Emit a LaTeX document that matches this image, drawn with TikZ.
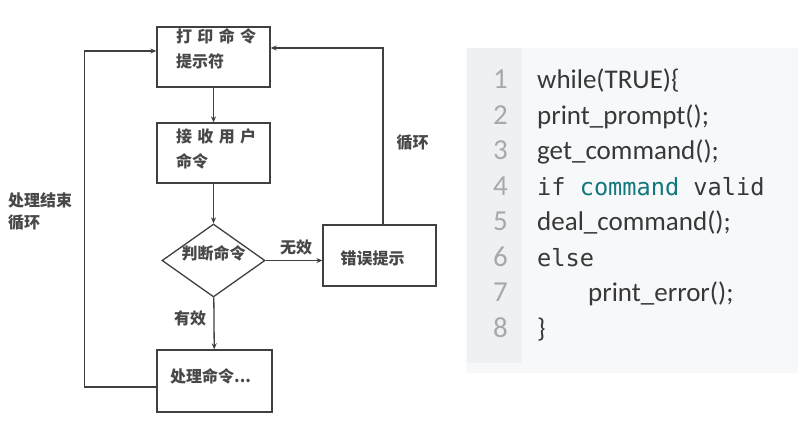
\documentclass[tikz,border=0pt]{standalone}
\usepackage{fontspec}
\setmainfont{Noto Sans}
\newfontfamily\cjk{Noto Sans CJK SC}
\newfontfamily\codesans{Carlito}
\newfontfamily\codemono{DejaVu Sans Mono}
\newfontfamily\lnfont{Carlito}
\usetikzlibrary{shapes.geometric,arrows.meta}
\definecolor{linec}{HTML}{404040}
\definecolor{cjkc}{HTML}{484848}
\definecolor{panelbg}{HTML}{F6F8FA}
\definecolor{gutterbg}{HTML}{EEF1F4}
\definecolor{lnc}{HTML}{A8A8A8}
\definecolor{codec}{HTML}{383838}
\definecolor{kwteal}{HTML}{11777A}
\begin{document}
\begin{tikzpicture}[x=1pt,y=-1pt,
  box/.style={draw=linec, line width=1.3pt, rectangle, inner sep=0pt},
  dia/.style={draw=linec, line width=1.3pt, diamond, inner sep=0pt},
  lbl/.style={font=\cjk\bfseries\fontsize{16}{16}\selectfont, text=cjkc, inner sep=0pt},
  arr/.style={draw=linec, line width=1.3pt, -{Stealth[length=6pt,width=5pt]}},
  code/.style={font=\codesans\fontsize{27}{27}\selectfont, text=codec, inner sep=0pt},
  mono/.style={font=\codemono\fontsize{23.6}{23.6}\selectfont, text=codec, inner sep=0pt},
  lnum/.style={font=\lnfont\fontsize{29}{29}\selectfont, text=lnc, inner sep=0pt}]
\useasboundingbox (0,0) rectangle (806,426);
% flowchart boxes
\node[box, minimum width=113pt, minimum height=60pt] (b1) at (213.5,57) {};
\node[box, minimum width=113pt, minimum height=60pt] (b2) at (213.5,153) {};
\node[dia, minimum width=103pt, minimum height=73pt] (d) at (213.5,260.5) {};
\node[box, minimum width=113pt, minimum height=61pt] (err) at (379.5,255.5) {};
\node[box, minimum width=115pt, minimum height=62pt] (proc) at (214.5,381) {};
% box texts
\node[lbl, anchor=west] (t1a) at (176,36) {打\hspace{5.3pt}印\hspace{5.3pt}命\hspace{5.3pt}令};
\node[lbl, anchor=west] (t1b) at (176,61) {提示符};
\node[lbl, anchor=west] (t2a) at (176,136) {接\hspace{5.3pt}收\hspace{5.3pt}用\hspace{5.3pt}户};
\node[lbl, anchor=west] (t2b) at (176,161) {命令};
\node[lbl] (td) at (213.5,253) {判断命令};
\node[lbl] (terr) at (372.5,258) {错误提示};
\node[lbl, anchor=west] (tproc) at (170,376) {处理命令...};
% edge labels
\node[lbl] (wx) at (296,247) {无效};
\node[lbl] (yx) at (190,318) {有效};
\node[lbl] (xh) at (412.5,143) {循环};
\node[lbl, anchor=west] (cl1) at (8,200) {处理结束};
\node[lbl, anchor=west] (cl2) at (8,223) {循环};
% connectors
\draw[arr] (b1) -- (b2);
\draw[arr] (b2) -- (d);
\draw[arr] (d.east) -- (d.east -| err.west);
\draw[arr] (d) -- (proc);
\draw[arr] ([yshift=-6pt]proc.west) -- ++(-72,0) |- ([yshift=6pt]b1.west);
\draw[arr] ([xshift=3.5pt]err.north) |- ([yshift=9pt]b1.east);
% code panel
\node[fill=panelbg, inner sep=0pt, minimum width=332pt, minimum height=325pt] (panel) at (632,210) {};
\node[fill=gutterbg, inner sep=0pt, minimum width=55pt, minimum height=315pt] (gutter) at (494.5,205) {};
\foreach \i in {1,...,8} {
  \node[lnum, anchor=base east] (n\i) at (508,88.5+35.5*\i-35.5) {\i};
}
\node[code, anchor=base west] (c1) at (537,88.5) {while(TRUE)\{};
\node[code, anchor=base west] (c2) at (537,124) {print\_prompt();};
\node[code, anchor=base west] (c3) at (537,159.5) {get\_command();};
\node[mono, anchor=base west] (c4) at (537,195) {if~\textcolor{kwteal}{command}~valid};
\node[code, anchor=base west] (c5) at (537,230.5) {deal\_command();};
\node[mono, anchor=base west] (c6) at (537,266) {else};
\node[code, anchor=base west] (c7) at (588,301.5) {print\_error();};
\node[code, anchor=base west] (c8) at (537,337) {\}};
\end{tikzpicture}
\end{document}
